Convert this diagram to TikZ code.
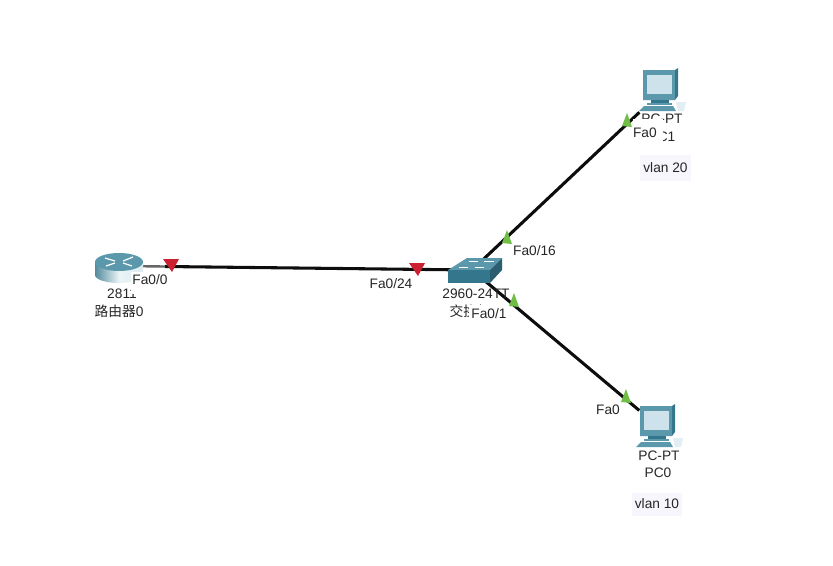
\documentclass[tikz,border=0pt]{standalone}
\usepackage{fontspec}
\setmainfont{Liberation Sans}
\newfontfamily\cjk{Noto Sans CJK SC}
\usepackage{tikz}
\usetikzlibrary{positioning, calc}

\definecolor{icondark}{RGB}{52,118,140}
\definecolor{iconmid}{RGB}{92,152,172}
\definecolor{iconlight}{RGB}{205,226,234}
\definecolor{linkred}{RGB}{203,32,48}
\definecolor{linkgreen}{RGB}{112,190,72}
\definecolor{vlanbg}{RGB}{246,246,252}

\tikzset{
  device/.style={font=\fontsize{10.3}{12}\selectfont, inner sep=0.5pt, text=black!85},
  port/.style={font=\fontsize{10.3}{12}\selectfont, inner sep=0.8pt, fill=white, text=black!85},
  vlan/.style={font=\fontsize{10.3}{12}\selectfont, inner sep=0pt, fill=vlanbg, text=black!85},
  anchorpt/.style={inner sep=0pt, minimum size=0pt},
  pcbox/.style={inner sep=0pt, minimum width=33.75pt, minimum height=31.5pt},
  link/.style={line width=2.3pt, black!95},
  pcicon/.pic={
    \fill[icondark] (-19,-21) -- (13,-21) -- (16,-23) -- (16,5) -- (13,9) -- (-19,9) -- cycle;
    \fill[iconmid] (-19,-21) -- (13,-21) -- (13,9) -- (-19,9) -- cycle;
    \fill[iconlight] (-15,-16) -- (10,-16) -- (10,3) -- (-15,3) -- cycle;
    \fill[icondark] (-11,9) -- (7,9) -- (7,12) -- (-11,12) -- cycle;
    \fill[iconmid] (-15,12) -- (10,12) -- (10,14) -- (-15,14) -- cycle;
    \fill[iconmid] (-18,15) -- (11,15) -- (14,20) -- (-23,20) -- cycle;
    \fill[iconlight!60] (14,11) -- (24,11) -- (22,20) -- (16,20) -- cycle;
  },
  routericon/.pic={
    \shade[left color=icondark!85, right color=iconlight!70, middle color=iconlight!40] (-24,-4) -- (-24,9) arc[start angle=180, end angle=0, x radius=24, y radius=8] -- (24,-4) -- cycle;
    \fill[iconmid] (0,-4) ellipse[x radius=24, y radius=9];
    \draw[white, line width=0.9pt] (-14,-8) -- (-4,-5) (14,-9) -- (4,-5) (-13,0) -- (-4,-3) (13,0) -- (4,-3);
  },
  switchicon/.pic={
    \fill[iconmid] (-24,0) -- (-5,-12) -- (30,-12) -- (18,0) -- cycle;
    \fill[icondark] (-24,0) -- (18,0) -- (18,13) -- (-24,13) -- cycle;
    \fill[icondark!80!black] (18,0) -- (30,-12) -- (30,0) -- (18,13) -- cycle;
    \draw[white, line width=0.6pt] (-3,-9) -- (6,-9) (12,-9) -- (22,-9) (-13,-3) -- (-4,-3) (3,-3) -- (12,-3);
  },
  redmark/.pic={\fill[linkred] (-8,-6) -- (8,-6) -- (1,7) -- cycle;},
  greenmark/.pic={\fill[linkgreen] (0,-7) -- (5,7) -- (-5,6) -- cycle;},
}

\begin{document}
\begin{tikzpicture}[x=0.75pt, y=-0.75pt]
  \useasboundingbox (0,0) rectangle (833,565);
  \node[anchorpt] (router) at (119,266) {};
  \node[anchorpt] (switch) at (472,270) {};
  \node[pcbox] (pcone) at (662,91) {};
  \node[pcbox] (pczero) at (659,427) {};
  \coordinate (routerend) at (165,266.5);

  % links
  \draw[link] (routerend) -- (switch);
  \draw[black!60, line width=1.8pt] (router) -- (routerend);
  \draw[link] (switch) -- (pcone);
  \draw[link, shorten >=-3pt] (switch) -- (pczero);

  % device text goes under the port labels
  \node[device] (routermodel) at (122,293.5) {2811};
  \node[device] (routername) at (119,311.5) {{\cjk 路由器}0};
  \node[device] (switchmodel) at (476,293.5) {2960-24TT};
  \node[device] (switchname) at (474,311.5) {{\cjk 交换机}0};
  \node[device] (pconemodel) at (662,119) {PC-PT};
  \node[device] (pconename) at (662,137) {PC1};
  \node[device] (pczeromodel) at (659,456) {PC-PT};
  \node[device] (pczeroname) at (658,473) {PC0};

  % icons
  \pic at (router) {routericon};
  \pic at (switch) {switchicon};
  \pic at (pcone) {pcicon};
  \pic at (pczero) {pcicon};

  % port labels
  \node[port, minimum width=28.5pt, inner sep=0pt, text height=9.75pt, text depth=6.75pt] (routerport) at (150,282.5) {Fa0/0};
  \node[port] (swrouter) at (391,283.5) {Fa0/24};
  \node[port] (swpcone) at (534.5,250.5) {Fa0/16};
  \node[port, minimum width=30pt, minimum height=13.5pt] (swpczero) at (489,313.5) {Fa0/1};
  \node[port, inner sep=0pt, text width=22.5pt, minimum height=20pt, align=left] (pconeport) at (648,132.5) {Fa0};
  \node[port] (pczeroport) at (608,409.5) {Fa0};

  % link marks
  \pic at (171,265) {redmark};
  \pic at (417,269) {redmark};
  \pic at (627,120) {greenmark};
  \pic at (507,237) {greenmark};
  \pic at (514,300) {greenmark};
  \pic at (626,396) {greenmark};

  \node[vlan, minimum width=38.25pt, minimum height=19.5pt] (vlantwenty) at (665.5,168) {vlan 20};
  \node[vlan, minimum width=37.5pt, minimum height=17.25pt] (vlanten) at (657,504) {vlan 10};
\end{tikzpicture}
\end{document}
